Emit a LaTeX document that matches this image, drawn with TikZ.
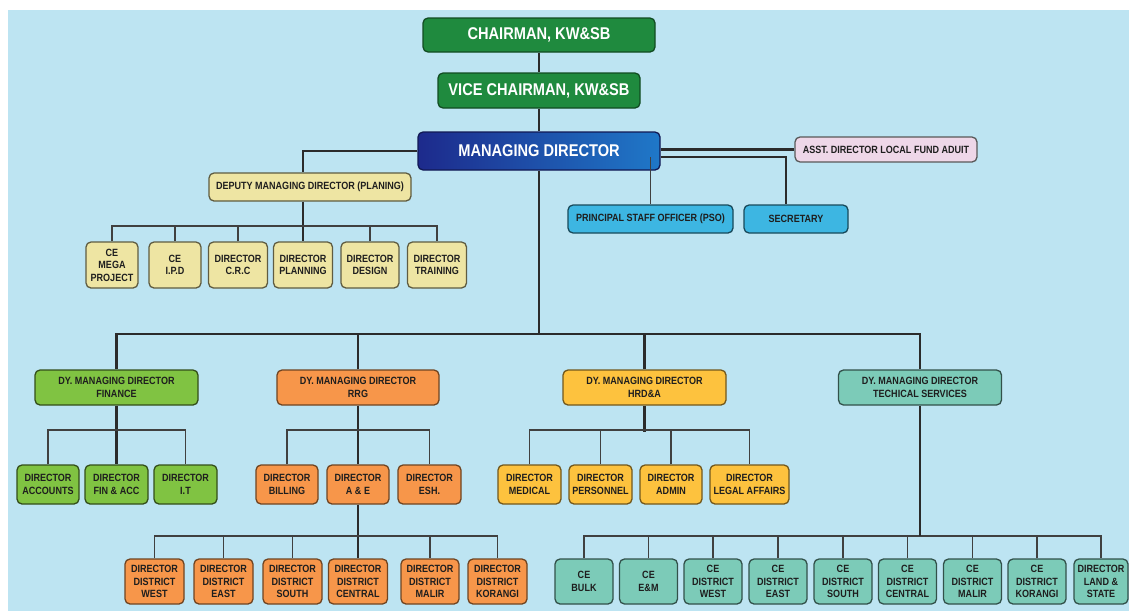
\documentclass[tikz,border=0pt]{standalone}
\usepackage{fontspec}
\setmainfont{Liberation Sans}[FakeStretch=0.86]

\definecolor{sky}{HTML}{BDE4F2}
\definecolor{wire}{HTML}{2B2B2B}
\definecolor{ink}{HTML}{1E1E1E}
\definecolor{chairgreen}{HTML}{1F8A3E}
\definecolor{mdnavy}{HTML}{1D2A8C}
\definecolor{mdblue}{HTML}{1F78C8}
\definecolor{auditpink}{HTML}{EED7E8}
\definecolor{plankhaki}{HTML}{EEE5A3}
\definecolor{psoblue}{HTML}{3DB6E2}
\definecolor{fingreen}{HTML}{80C342}
\definecolor{rrgorange}{HTML}{F7964A}
\definecolor{hrdyellow}{HTML}{FDC23E}
\definecolor{tsteal}{HTML}{7CCBB8}

\newcommand\headfont{\bfseries\fontsize{17}{20}\selectfont}
\newcommand\boxfont{\bfseries\fontsize{10.5}{12.4}\selectfont}

\begin{document}
\begin{tikzpicture}[x=1pt,y=-1pt,
  wire/.style={draw=wire,line width=2.2pt},
  drop/.style={draw=wire!90,line width=1.8pt},
  box/.style={rounded corners=5pt,line width=1.3pt,align=center,inner sep=1pt,text=ink,font=\boxfont},
  head/.style={box,text=white,font=\headfont},
  plan/.style={box,fill=plankhaki,draw=plankhaki!40!black},
  psobox/.style={box,fill=psoblue,draw=psoblue!40!black},
  fin/.style={box,fill=fingreen,draw=fingreen!40!black},
  rrg/.style={box,fill=rrgorange,draw=rrgorange!45!black},
  hrd/.style={box,fill=hrdyellow,draw=hrdyellow!45!black},
  tech/.style={box,fill=tsteal,draw=tsteal!40!black}]
\useasboundingbox (0,0) rectangle (1129,611);
\fill[sky] (8,10) rectangle (1129,611);

\node[head,fill=chairgreen,draw=chairgreen!55!black,minimum width=232,minimum height=34] (chair) at (539,35) {CHAIRMAN, KW\&SB};
\node[head,fill=chairgreen,draw=chairgreen!55!black,minimum width=202,minimum height=35] (vice) at (539,90.5) {VICE CHAIRMAN, KW\&SB};
\node[head,left color=mdnavy,right color=mdblue,draw=mdnavy!60!black,minimum width=242,minimum height=38] (md) at (539,151) {MANAGING DIRECTOR};
\node[box,fill=auditpink,draw=gray!70!black,minimum width=182,minimum height=25] (asst) at (886,149.5) {ASST. DIRECTOR LOCAL FUND ADUIT};

\node[plan,minimum width=202,minimum height=28] (dmdp) at (310,187) {DEPUTY MANAGING DIRECTOR (PLANING)};
\node[plan,minimum width=52,minimum height=46] (mega) at (112,265) {CE\\MEGA\\PROJECT};
\node[plan,minimum width=52,minimum height=46] (ipd) at (175,265) {CE\\I.P.D};
\node[plan,minimum width=59,minimum height=46] (crc) at (238,265) {DIRECTOR\\C.R.C};
\node[plan,minimum width=59,minimum height=46] (dpl) at (303,265) {DIRECTOR\\PLANNING};
\node[plan,minimum width=58,minimum height=46] (dsg) at (370,265) {DIRECTOR\\DESIGN};
\node[plan,minimum width=59,minimum height=46] (trn) at (437,265) {DIRECTOR\\TRAINING};

\node[psobox,minimum width=165,minimum height=28] (pso) at (650.5,219) {PRINCIPAL STAFF OFFICER (PSO)};
\node[psobox,minimum width=104,minimum height=28] (sec) at (796,219) {SECRETARY};

\node[fin,minimum width=163,minimum height=35] (dfin) at (116.5,387.5) {DY. MANAGING DIRECTOR\\FINANCE};
\node[rrg,minimum width=162,minimum height=35] (drrg) at (358,387.5) {DY. MANAGING DIRECTOR\\RRG};
\node[hrd,minimum width=163,minimum height=35] (dhrd) at (644.5,387.5) {DY. MANAGING DIRECTOR\\HRD\&A};
\node[tech,minimum width=163,minimum height=35] (dts) at (920,387.5) {DY. MANAGING DIRECTOR\\TECHICAL SERVICES};

\node[fin,minimum width=62,minimum height=39] (acc) at (48,484.5) {DIRECTOR\\ACCOUNTS};
\node[fin,minimum width=63,minimum height=39] (finacc) at (116.5,484.5) {DIRECTOR\\FIN \& ACC};
\node[fin,minimum width=63,minimum height=39] (it) at (185.5,484.5) {DIRECTOR\\I.T};

\node[rrg,minimum width=62,minimum height=39] (bill) at (287,484.5) {DIRECTOR\\BILLING};
\node[rrg,minimum width=62,minimum height=39] (ae) at (358,484.5) {DIRECTOR\\A \& E};
\node[rrg,minimum width=63,minimum height=39] (esh) at (429.5,484.5) {DIRECTOR\\ESH.};

\node[hrd,minimum width=63,minimum height=39] (med) at (529.5,484.5) {DIRECTOR\\MEDICAL};
\node[hrd,minimum width=63,minimum height=39] (pers) at (600.5,484.5) {DIRECTOR\\PERSONNEL};
\node[hrd,minimum width=62,minimum height=39] (adm) at (671,484.5) {DIRECTOR\\ADMIN};
\node[hrd,minimum width=79,minimum height=39] (leg) at (749.5,484.5) {DIRECTOR\\LEGAL AFFAIRS};

\node[rrg,minimum width=59,minimum height=45] (dwest) at (154.5,581.5) {DIRECTOR\\DISTRICT\\WEST};
\node[rrg,minimum width=59,minimum height=45] (deast) at (223.5,581.5) {DIRECTOR\\DISTRICT\\EAST};
\node[rrg,minimum width=59,minimum height=45] (dsouth) at (292.5,581.5) {DIRECTOR\\DISTRICT\\SOUTH};
\node[rrg,minimum width=59,minimum height=45] (dcen) at (358,581.5) {DIRECTOR\\DISTRICT\\CENTRAL};
\node[rrg,minimum width=58,minimum height=45] (dmal) at (430,581.5) {DIRECTOR\\DISTRICT\\MALIR};
\node[rrg,minimum width=59,minimum height=45] (dkor) at (497.5,581.5) {DIRECTOR\\DISTRICT\\KORANGI};

\node[tech,minimum width=58,minimum height=45] (cbulk) at (584,581.5) {CE\\BULK};
\node[tech,minimum width=58,minimum height=45] (cem) at (648.5,581.5) {CE\\E\&M};
\node[tech,minimum width=58,minimum height=45] (cwest) at (713,581.5) {CE\\DISTRICT\\WEST};
\node[tech,minimum width=58,minimum height=45] (ceast) at (778,581.5) {CE\\DISTRICT\\EAST};
\node[tech,minimum width=58,minimum height=45] (csouth) at (843,581.5) {CE\\DISTRICT\\SOUTH};
\node[tech,minimum width=58,minimum height=45] (ccen) at (907.5,581.5) {CE\\DISTRICT\\CENTRAL};
\node[tech,minimum width=58,minimum height=45] (cmal) at (972.5,581.5) {CE\\DISTRICT\\MALIR};
\node[tech,minimum width=58,minimum height=45] (ckor) at (1037,581.5) {CE\\DISTRICT\\KORANGI};
\node[tech,minimum width=54,minimum height=45] (land) at (1101,581.5) {DIRECTOR\\LAND \&\\STATE};

\draw[wire] (chair) -- (vice);
\draw[wire] (vice) -- (md);
\draw[wire] (md.east |- asst.west) -- (asst.west);
\coordinate (mdr) at ([yshift=-6pt]md.east);
\draw[wire] (mdr) -| ([xshift=-10pt]sec.north);
\draw[drop] (pso.north) -- (pso.north |- mdr);
\draw[wire] (md.west) -| (dpl.north |- dmdp.north);
\draw[wire] (dpl.north |- dmdp.south) -- (dpl.north);
\draw[drop] (mega.north) -- ++(0,-15) -| (trn.north);
\draw[drop] (ipd.north) -- ++(0,-15);
\draw[drop] (crc.north) -- ++(0,-15);
\draw[drop] (dsg.north) -- ++(0,-15);

\draw[wire] (md.south) -- (md.south |- 0,335);
\draw[wire] (dfin.north) -- ++(0,-35) -| (dts.north);
\draw[wire] (drrg.north) -- ++(0,-35);
\draw[wire] (dhrd.north) -- ++(0,-35);

\draw[wire] (dfin) -- (finacc);
\draw[drop] (acc.north) -- ++(0,-34) -| (it.north);
\draw[wire] (drrg) -- (ae);
\draw[drop] (bill.north) -- ++(0,-34) -| (esh.north);
\draw[wire] (dhrd.south) -- ++(0,26);
\draw[drop] (med.north) -- ++(0,-34) -| (leg.north);
\draw[drop] (pers.north) -- ++(0,-34);
\draw[drop] (adm.north) -- ++(0,-34);

\draw[wire] (ae) -- (dcen);
\draw[drop] (dwest.north) -- ++(0,-22) -| (dkor.north);
\draw[drop] (deast.north) -- ++(0,-22);
\draw[drop] (dsouth.north) -- ++(0,-22);
\draw[drop] (dmal.north) -- ++(0,-22);

\draw[drop] (cbulk.north) -- ++(0,-22) coordinate (tsbus) -| (land.north);
\draw[wire] (dts.south) -- (dts.south |- tsbus);
\draw[drop] (cem.north) -- ++(0,-22);
\draw[drop] (cwest.north) -- ++(0,-22);
\draw[drop] (ceast.north) -- ++(0,-22);
\draw[drop] (csouth.north) -- ++(0,-22);
\draw[drop] (ccen.north) -- ++(0,-22);
\draw[drop] (cmal.north) -- ++(0,-22);
\draw[drop] (ckor.north) -- ++(0,-22);
\end{tikzpicture}
\end{document}
